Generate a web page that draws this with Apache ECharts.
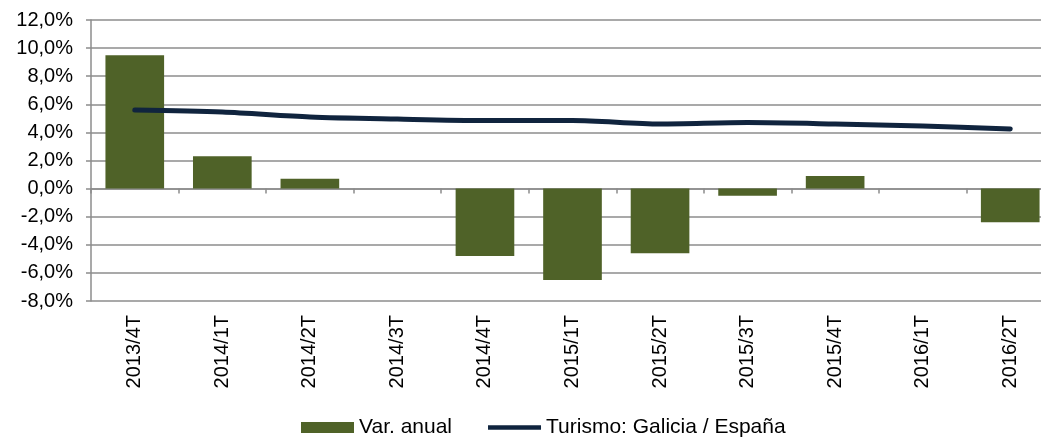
<!DOCTYPE html>
<html>
<head>
<meta charset="utf-8">
<script src="https://cdn.jsdelivr.net/npm/echarts@6/dist/echarts.min.js"></script>
<style>
  html, body { margin: 0; padding: 0; background: #fff; overflow: hidden; }
  /* the plot runs past the right edge of the window, as in the source */
  #chart { width: 1054px; height: 440px; }
</style>
</head>
<body>
<div id="chart"></div>
<script>
  var categories = ["2013/4T", "2014/1T", "2014/2T", "2014/3T", "2014/4T", "2015/1T",
    "2015/2T", "2015/3T", "2015/4T", "2016/1T", "2016/2T"];

  // Var. anual (%)
  var varAnual = [9.5, 2.3, 0.7, 0, -4.8, -6.5, -4.6, -0.5, 0.9, 0, -2.4];

  // Turismo: Galicia / España (%)
  var turismo = [5.6, 5.45, 5.1, 4.95, 4.85, 4.85, 4.6, 4.7, 4.6, 4.45, 4.25];

  var font = "'Liberation Sans', Arial, sans-serif";
  var gridGray = "#8c8c8c";
  var lineColor = "#10243e";

  function pct(v) {
    return v.toFixed(1).replace(".", ",") + "%";
  }

  var myChart = echarts.init(document.getElementById("chart"));

  var options = {
    animation: false,
    textStyle: { fontFamily: font, color: "#000" },
    grid: { left: 91, top: 20, right: 0, bottom: 139, containLabel: false },
    legend: {
      left: 296,
      top: 412,
      itemWidth: 53,
      itemHeight: 11,
      itemGap: 36,
      textStyle: { fontFamily: font, fontSize: 21, color: "#000" },
      data: [
        { name: "Var. anual", icon: "rect" },
        {
          name: "Turismo: Galicia / España",
          icon: "path://M0,0 L56,0 L56,5 L0,5 Z",
          itemStyle: { color: lineColor }
        }
      ]
    },
    xAxis: [
      {
        type: "category",
        data: categories,
        position: "bottom",
        axisLine: { show: false, onZero: false },
        axisTick: { show: false },
        axisLabel: {
          rotate: 90,
          interval: 0,
          margin: 14,
          fontSize: 20,
          fontFamily: font,
          color: "#000"
        }
      },
      {
        type: "category",
        data: categories,
        position: "bottom",
        axisLine: { show: true, onZero: true, lineStyle: { color: gridGray, width: 1.5 } },
        axisTick: { show: true, interval: 0, length: 5, lineStyle: { color: gridGray, width: 1.5 } },
        axisLabel: { show: false }
      }
    ],
    yAxis: {
      type: "value",
      min: -8,
      max: 12,
      interval: 2,
      axisLine: { show: true, lineStyle: { color: gridGray, width: 1.5 } },
      axisTick: { show: true, length: 5, lineStyle: { color: gridGray, width: 1.5 } },
      splitLine: { show: true, lineStyle: { color: gridGray, width: 1.5 } },
      axisLabel: {
        margin: 18,
        fontSize: 20,
        fontFamily: font,
        color: "#000",
        formatter: pct
      }
    },
    series: [
      {
        name: "Var. anual",
        type: "bar",
        data: varAnual,
        barCategoryGap: "33%",
        itemStyle: { color: "#4f6228" }
      },
      {
        name: "Turismo: Galicia / España",
        type: "line",
        data: turismo,
        smooth: 0.3,
        symbol: "none",
        lineStyle: { color: lineColor, width: 5, cap: "round" },
        itemStyle: { color: lineColor }
      }
    ]
  };

  myChart.setOption(options);
</script>
</body>
</html>
